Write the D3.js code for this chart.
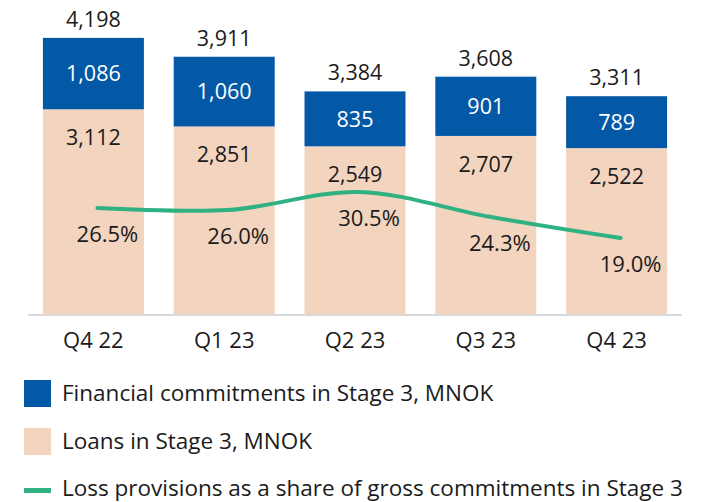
<!DOCTYPE html>
<html>
<head>
<meta charset="utf-8">
<script src="https://cdn.jsdelivr.net/npm/d3@7"></script>
<style>
  html, body { margin: 0; padding: 0; background: #fff; }
  svg { display: block; font-family: "Open Sans", Lato, sans-serif; }
</style>
</head>
<body>
<svg id="chart" width="702" height="502"></svg>
<script>
// Quarterly stage 3 figures
const categories = ["Q4 22", "Q1 23", "Q2 23", "Q3 23", "Q4 23"];
const loans = [3112, 2851, 2549, 2707, 2522];
const commitments = [1086, 1060, 835, 901, 789];
const totals = [4198, 3911, 3384, 3608, 3311];
const lossShare = [26.5, 26.0, 30.5, 24.3, 19.0];
const legendLabels = [
  "Financial commitments in Stage 3, MNOK",
  "Loans in Stage 3, MNOK",
  "Loss provisions as a share of gross commitments in Stage 3"
];

const colors = { commit: "#0459a6", loans: "#f2d4bf", line: "#2fb182", text: "#1b1b1b" };

const svg = d3.select("#chart");
const plotLeft = 28, plotRight = 682, plotBase = 314, plotTop = 18;

const x = d3.scaleBand().domain(categories).range([plotLeft, plotRight])
  .paddingInner(0.228).paddingOuter(0.114);
const y = d3.scaleLinear().domain([0, 4500]).range([plotBase, plotTop]);
const y2 = d3.scaleLinear().domain([0, 74]).range([plotBase, plotTop]);

const fmt = d3.format(",");

const rows = categories.map((c, i) => ({ c, loans: loans[i], commit: commitments[i], total: totals[i], pct: lossShare[i] }));

// Loans segment
svg.append("g").selectAll("rect").data(rows).join("rect")
  .attr("x", d => x(d.c)).attr("width", x.bandwidth())
  .attr("y", d => y(d.loans)).attr("height", d => y(0) - y(d.loans))
  .attr("fill", colors.loans);

// Commitments segment on top
svg.append("g").selectAll("rect").data(rows).join("rect")
  .attr("x", d => x(d.c)).attr("width", x.bandwidth())
  .attr("y", d => y(d.loans + d.commit)).attr("height", d => y(d.loans) - y(d.loans + d.commit))
  .attr("fill", colors.commit);

// Baseline axis
const axis = svg.append("g").attr("transform", `translate(0,${plotBase + 1})`)
  .call(d3.axisBottom(x).tickSize(0).tickPadding(17));
axis.select(".domain").attr("stroke", "#cccccc").attr("stroke-width", 1.5)
  .attr("d", `M${plotLeft},0H${plotRight}`);
axis.selectAll("text").attr("font-size", 22).attr("fill", colors.text)
  .attr("font-family", "'Open Sans', sans-serif");

const cx = d => x(d.c) + x.bandwidth() / 2;

// Value labels
const lbl = svg.append("g").attr("font-size", 21.5).attr("text-anchor", "middle");
lbl.selectAll(".tot").data(rows).join("text").attr("class", "tot")
  .attr("x", cx).attr("y", d => y(d.total) - 11)
  .attr("fill", colors.text).text(d => fmt(d.total));
lbl.selectAll(".com").data(rows).join("text").attr("class", "com")
  .attr("x", cx).attr("y", d => (y(d.loans) + y(d.loans + d.commit)) / 2)
  .attr("dy", "0.36em").attr("fill", "#fff").text(d => fmt(d.commit));
lbl.selectAll(".loan").data(rows).join("text").attr("class", "loan")
  .attr("x", cx).attr("y", d => y(d.loans) + 36)
  .attr("fill", colors.text).text(d => fmt(d.loans));

// Loss provision share line
const line = d3.line().x(d => cx(d) + 4).y(d => y2(d.pct)).curve(d3.curveCatmullRom.alpha(0.5));
svg.append("path").datum(rows).attr("d", line)
  .attr("fill", "none").attr("stroke", colors.line).attr("stroke-width", 4).attr("stroke-linecap", "round");

lbl.selectAll(".pct").data(rows).join("text").attr("class", "pct")
  .attr("x", d => cx(d) + 14).attr("y", d => y2(d.pct) + 34)
  .attr("font-size", 22).attr("fill", colors.text).text(d => d.pct.toFixed(1) + "%");

// Legend
const lg = svg.append("g").attr("font-size", 22.5).attr("fill", colors.text);
const items = [
  { label: legendLabels[0], type: "rect", color: colors.commit, y: 380, base: 401 },
  { label: legendLabels[1], type: "rect", color: colors.loans, y: 428, base: 449 },
  { label: legendLabels[2], type: "line", color: colors.line, y: 476, base: 496 }
];
items.forEach(it => {
  if (it.type === "rect") {
    lg.append("rect").attr("x", 24).attr("y", it.y).attr("width", 27).attr("height", 27).attr("fill", it.color);
  } else {
    lg.append("rect").attr("x", 24).attr("y", it.y + 12).attr("width", 27).attr("height", 5).attr("fill", it.color);
  }
  lg.append("text").attr("x", 62).attr("y", it.base).text(it.label);
});
</script>
</body>
</html>
